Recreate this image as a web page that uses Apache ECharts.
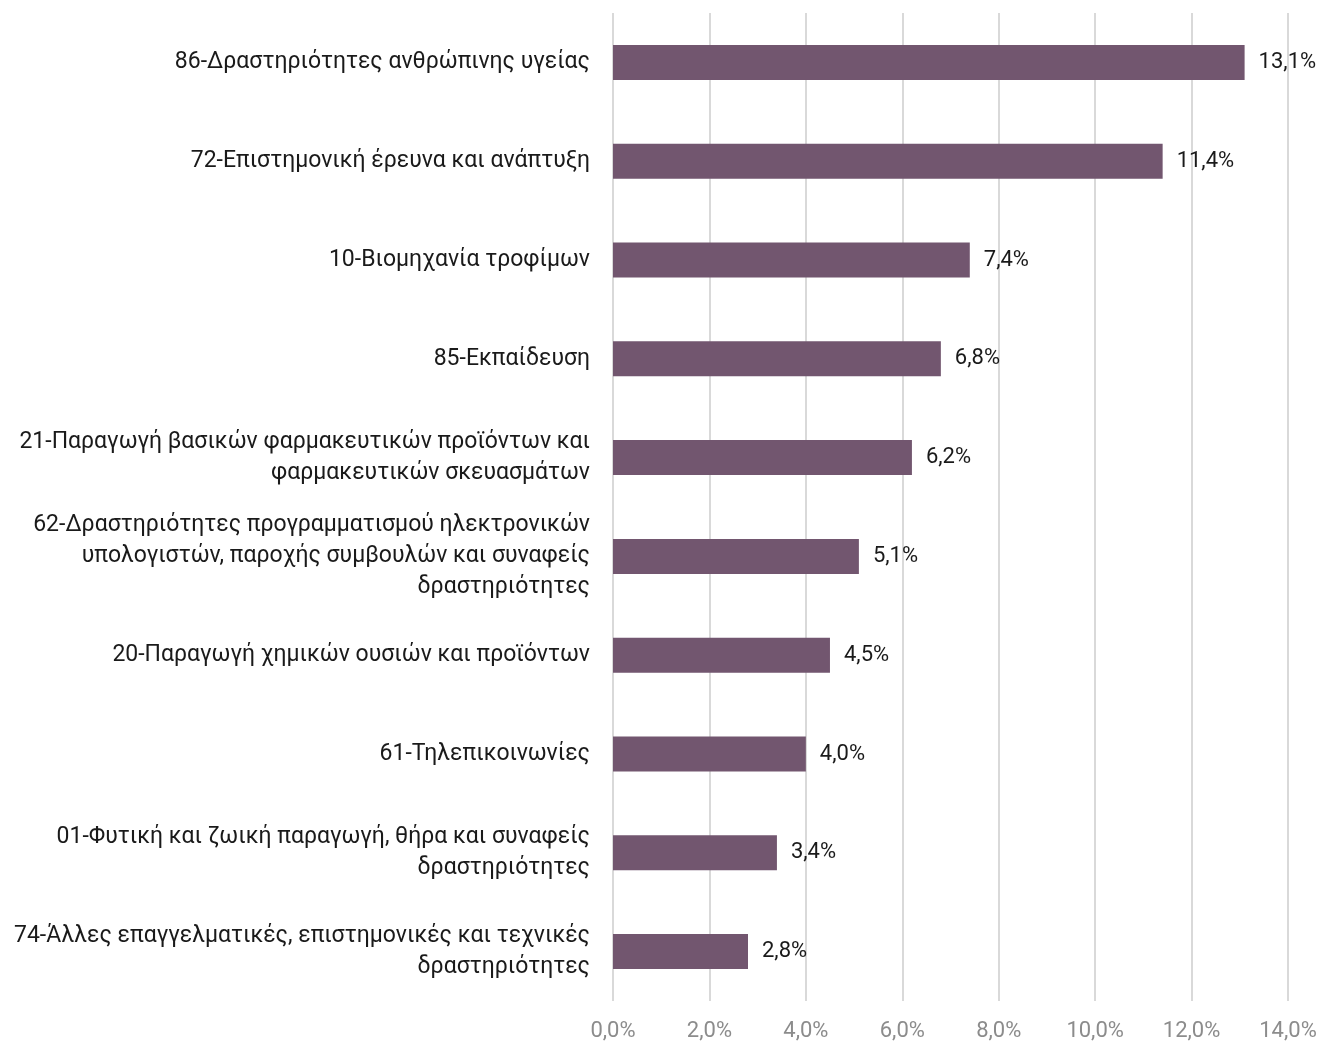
<!DOCTYPE html>
<html>
<head>
<meta charset="utf-8">
<script src="https://cdn.jsdelivr.net/npm/echarts@6/dist/echarts.min.js"></script>
<style>html,body{margin:0;padding:0;background:#fff}#c{width:1320px;height:1042px}</style>
</head>
<body>
<div id="c"></div>
<script>
const categories = [
  "86-Δραστηριότητες ανθρώπινης υγείας",
  "72-Επιστημονική έρευνα και ανάπτυξη",
  "10-Βιομηχανία τροφίμων",
  "85-Εκπαίδευση",
  "21-Παραγωγή βασικών φαρμακευτικών προϊόντων και\nφαρμακευτικών σκευασμάτων",
  "62-Δραστηριότητες προγραμματισμού ηλεκτρονικών\nυπολογιστών, παροχής συμβουλών και συναφείς\nδραστηριότητες",
  "20-Παραγωγή χημικών ουσιών και προϊόντων",
  "61-Τηλεπικοινωνίες",
  "01-Φυτική και ζωική παραγωγή, θήρα και συναφείς\nδραστηριότητες",
  "74-Άλλες επαγγελματικές, επιστημονικές και τεχνικές\nδραστηριότητες"
];
const values = [13.1, 11.4, 7.4, 6.8, 6.2, 5.1, 4.5, 4.0, 3.4, 2.8];
const xTicks = { min: 0, max: 14, interval: 2 };

const fmt = v => v.toFixed(1).replace('.', ',') + '%';
const chart = echarts.init(document.getElementById('c'));
chart.setOption({
  animation: false,
  grid: { left: 613, right: 32, top: 13, bottom: 41, containLabel: false },
  xAxis: {
    type: 'value', min: xTicks.min, max: xTicks.max, interval: xTicks.interval,
    axisLine: { show: false }, axisTick: { show: false },
    splitLine: { show: true, lineStyle: { color: '#d9d9d9', width: 2 } },
    axisLabel: { color: '#8c8c8c', fontSize: 22, fontFamily: 'Roboto', margin: 19, formatter: fmt }
  },
  yAxis: {
    type: 'category', data: categories, inverse: true,
    axisLine: { show: false }, axisTick: { show: false },
    axisLabel: { color: '#1a1a1a', fontSize: 23, fontFamily: 'Roboto', margin: 23, lineHeight: 31, align: 'right' }
  },
  series: [{
    type: 'bar', data: values, barWidth: 35,
    itemStyle: { color: '#72566f' },
    label: { show: true, position: 'right', distance: 14, color: '#1a1a1a', fontSize: 22, fontFamily: 'Roboto', formatter: p => fmt(p.value) }
  }]
});
</script>
</body>
</html>
